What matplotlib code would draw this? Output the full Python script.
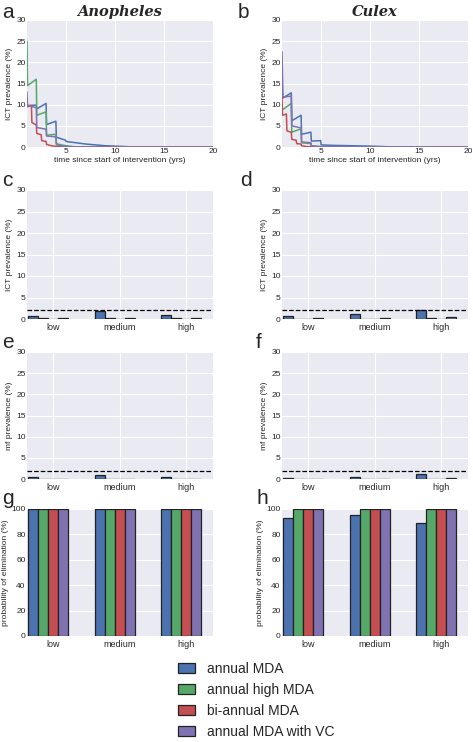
import matplotlib
matplotlib.use("Agg")
import matplotlib.pyplot as plt
import matplotlib.patches as mpatches
import seaborn as sns

sns.set_style("darkgrid")
plt.rcParams['font.family'] = ['Liberation Sans', 'DejaVu Sans']

# colours (old seaborn "deep")
colors = ["#4C72B0", "#55A868", "#C44E52", "#8172B2"]
strategies = ["annual MDA", "annual high MDA", "bi-annual MDA", "annual MDA with VC"]
levels = ["low", "medium", "high"]

# --- time series, Anopheles (panel a)
an_t_blue = [1, 1.05, 1.95, 2.0, 2.95, 3.0, 3.95, 4.0, 4.95, 5.0, 6, 7, 8, 9, 10, 11, 12, 20]
an_y_blue = [10.2, 9.8, 9.9, 9.0, 10.3, 5.3, 6.1, 2.3, 1.6, 1.3, 1.0, 0.7, 0.5, 0.3, 0.2, 0.1, 0.0, 0.0]
an_t_green = [1, 1.05, 1.95, 2.0, 2.95, 3.0, 3.95, 4.0, 4.5, 5, 6, 20]
an_y_green = [25, 14.5, 16, 7.5, 8.3, 2.8, 3.0, 0.8, 0.5, 0.3, 0.0, 0.0]
an_t_red = [1, 1.05, 1.45, 1.5, 1.95, 2.0, 2.45, 2.5, 2.95, 3.0, 3.5, 4, 5, 20]
an_y_red = [11.5, 9.5, 9.8, 5.8, 5.2, 3.2, 2.9, 1.5, 1.3, 0.6, 0.3, 0.1, 0.0, 0.0]
an_t_purple = [1, 1.05, 1.95, 2.0, 2.95, 3.0, 3.95, 4.0, 4.5, 5, 6, 20]
an_y_purple = [13, 9.8, 9.3, 4.6, 4.2, 2.6, 2.4, 0.5, 0.3, 0.1, 0.0, 0.0]

# --- time series, Culex (panel b)
cu_t_blue = [1, 1.05, 1.95, 2.0, 2.95, 3.0, 3.95, 4.0, 4.95, 5.0, 6, 8, 10, 12, 20]
cu_y_blue = [16, 11.5, 12.8, 6.2, 7.5, 3.0, 3.5, 1.4, 1.5, 0.5, 0.4, 0.3, 0.2, 0.05, 0.0]
cu_t_green = [1, 1.05, 1.95, 2.0, 2.95, 3.0, 3.95, 4.0, 5, 20]
cu_y_green = [9.5, 8.8, 10.3, 3.5, 4.3, 1.0, 0.8, 0.2, 0.0, 0.0]
cu_t_red = [1, 1.05, 1.45, 1.5, 1.95, 2.0, 2.45, 2.5, 2.95, 3.0, 3.5, 4, 5, 20]
cu_y_red = [12, 7.5, 7.8, 3.8, 3.5, 1.8, 1.6, 0.8, 0.7, 0.3, 0.1, 0.05, 0.0, 0.0]
cu_t_purple = [1, 1.1, 1.95, 2.0, 2.95, 3.0, 3.95, 4.0, 5, 20]
cu_y_purple = [22.5, 11.8, 12.0, 5.0, 4.5, 1.2, 1.0, 0.3, 0.1, 0.0]

# --- bar values: rows = strategies, columns = low / medium / high
ict_anoph = [[0.8, 1.8, 1.0], [0.2, 0.3, 0.2], [0.05, 0.05, 0.05], [0.2, 0.2, 0.2]]
ict_culex = [[0.7, 1.2, 2.1], [0.1, 0.1, 0.3], [0.05, 0.05, 0.1], [0.3, 0.3, 0.5]]
mf_anoph = [[0.45, 1.0, 0.45], [0.05, 0.05, 0.05], [0.02, 0.02, 0.02], [0.05, 0.05, 0.05]]
mf_culex = [[0.2, 0.4, 1.1], [0.02, 0.02, 0.05], [0.01, 0.01, 0.01], [0.05, 0.05, 0.2]]
elim_anoph = [[100, 100, 100], [100, 100, 100], [100, 100, 100], [100, 100, 100]]
elim_culex = [[93, 95, 89], [100, 100, 100], [100, 100, 100], [100, 100, 100]]

threshold = 2

fig = plt.figure(figsize=(4.73, 7.42), dpi=100)
W, H = 473.0, 742.0


def px_axes(l, t, r, b):
    return fig.add_axes([l / W, 1 - b / H, (r - l) / W, (b - t) / H])


def style(ax):
    ax.tick_params(labelsize=6, pad=1, length=0)
    for s in ax.spines.values():
        s.set_visible(False)


def line_panel(ax, series):
    for (t, y), c in zip(series, colors):
        ax.plot(t, y, color=c, lw=1.1)
    ax.set_xlim(1, 20)
    ax.set_ylim(0, 30)
    ax.set_xticks([5, 10, 15, 20])
    ax.set_yticks([0, 5, 10, 15, 20, 25, 30])
    ax.set_xlabel("time since start of intervention (yrs)", fontsize=6, labelpad=1)
    ax.set_ylabel("ICT prevalence (%)", fontsize=6, labelpad=2)
    style(ax)


def bar_panel(ax, vals, ylabel, ymax=30, yticks=None, dashed=True):
    w = 0.15
    for k, (v, c) in enumerate(zip(vals, colors)):
        xs = [i + k * w for i in range(3)]
        ax.bar(xs, v, width=w, align='edge', color=c, edgecolor="#222222", lw=0.9, zorder=3)
    if dashed:
        ax.axhline(threshold, color="black", ls="--", lw=0.9, zorder=4)
    ax.set_xlim(-0.02, 2.78)
    ax.set_ylim(0, ymax)
    ax.set_xticks([i + 0.375 for i in range(3)])
    ax.set_xticklabels(levels)
    if yticks is not None:
        ax.set_yticks(yticks)
    ax.set_ylabel(ylabel, fontsize=6, labelpad=2)
    style(ax)
    ax.tick_params(axis="x", pad=3, labelsize=6.5)


cols = [(27, 213), (282, 468)]

ax_a = px_axes(cols[0][0], 20, cols[0][1], 147)
line_panel(ax_a, [(an_t_blue, an_y_blue), (an_t_green, an_y_green),
                  (an_t_red, an_y_red), (an_t_purple, an_y_purple)])
ax_b = px_axes(cols[1][0], 20, cols[1][1], 147)
line_panel(ax_b, [(cu_t_blue, cu_y_blue), (cu_t_green, cu_y_green),
                  (cu_t_red, cu_y_red), (cu_t_purple, cu_y_purple)])

ax_a.set_title("Anopheles", fontsize=10.5, family="DejaVu Serif", style="italic",
               weight="bold", pad=3)
ax_b.set_title("Culex", fontsize=10.5, family="DejaVu Serif", style="italic",
               weight="bold", pad=3)

ax_c = px_axes(cols[0][0], 190, cols[0][1], 319)
bar_panel(ax_c, ict_anoph, "ICT prevalence (%)", yticks=[0, 5, 10, 15, 20, 25, 30])
ax_d = px_axes(cols[1][0], 190, cols[1][1], 319)
bar_panel(ax_d, ict_culex, "ICT prevalence (%)", yticks=[0, 5, 10, 15, 20, 25, 30])

ax_e = px_axes(cols[0][0], 352, cols[0][1], 479)
bar_panel(ax_e, mf_anoph, "mf prevalence (%)", yticks=[0, 5, 10, 15, 20, 25, 30])
ax_f = px_axes(cols[1][0], 352, cols[1][1], 479)
bar_panel(ax_f, mf_culex, "mf prevalence (%)", yticks=[0, 5, 10, 15, 20, 25, 30])

ax_g = px_axes(cols[0][0], 509, cols[0][1], 636)
bar_panel(ax_g, elim_anoph, "probability of elimination (%)", ymax=100,
          yticks=[0, 20, 40, 60, 80, 100], dashed=False)
ax_h = px_axes(cols[1][0], 509, cols[1][1], 636)
bar_panel(ax_h, elim_culex, "probability of elimination (%)", ymax=100,
          yticks=[0, 20, 40, 60, 80, 100], dashed=False)

# panel letters
letters = [("a", 2, 12), ("b", 238, 12), ("c", 2, 180), ("d", 240, 180),
           ("e", 2, 343), ("f", 256, 343), ("g", 2, 498), ("h", 256, 498)]
for s, x, y in letters:
    fig.text(x / W, 1 - y / H, s, fontsize=15, va="center", ha="left")

handles = [mpatches.Patch(facecolor=c, edgecolor="#222222", lw=0.9) for c in colors]
fig.legend(handles, strategies, loc="upper left", bbox_to_anchor=(178 / W, 1 - 662 / H),
           frameon=False, fontsize=10, handlelength=1.25, handleheight=0.75,
           handletextpad=0.85, labelspacing=0.5, borderpad=0, borderaxespad=0)

fig.savefig("out.png", dpi=100)
